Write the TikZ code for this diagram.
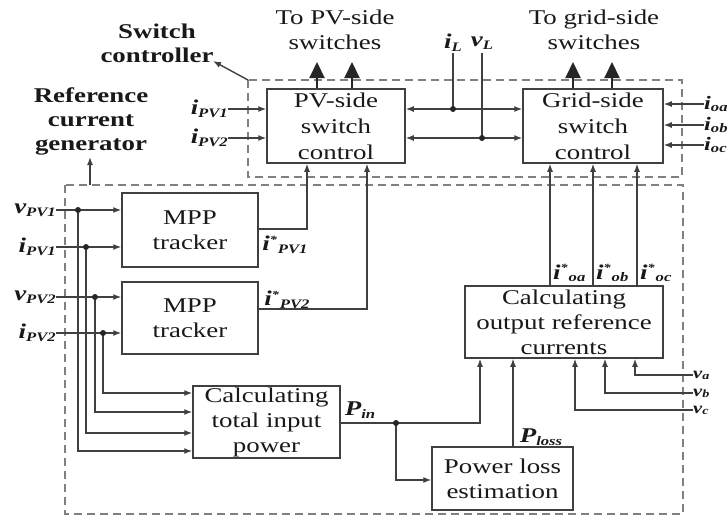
\documentclass[tikz,border=0pt]{standalone}
\usepackage{fontspec}
\setmainfont[FakeStretch=1.28]{Liberation Serif}
\usetikzlibrary{arrows.meta,calc}
\newcommand{\sgl}[2]{{\bfseries\itshape #1\raisebox{-0.3ex}{\fontsize{13}{13}\selectfont #2}}}
\newcommand{\sgv}[2]{{\bfseries\itshape #1\raisebox{-0.15ex}{\fontsize{11}{11}\selectfont #2}}}
\newcommand{\sgs}[2]{{\bfseries\itshape #1\raisebox{0.8ex}{\fontsize{11}{11}\selectfont *}\hspace{1pt}\raisebox{-0.3ex}{\fontsize{13}{13}\selectfont #2}}}
\begin{document}
\begin{tikzpicture}[x=1pt,y=-1pt,
 every node/.style={text=black!90},
 blk/.style={draw=black!75,line width=1.5pt,align=center,inner sep=0pt,font=\fontsize{21}{25}\selectfont},
 wire/.style={draw=black!75,line width=1.4pt},
 sarr/.style={wire,-{Latex[length=8pt,width=6pt]}},
 darr/.style={wire,{Latex[length=8pt,width=6pt]}-{Latex[length=8pt,width=6pt]}},
 barr/.style={draw=black!85,line width=2pt,-{Triangle[length=16pt,width=15pt]}},
 dbox/.style={draw=black!50,line width=1.3pt,dash pattern=on 8pt off 5pt},
 lbl/.style={inner sep=0pt,font=\fontsize{21}{25}\selectfont},
 sml/.style={inner sep=0pt,font=\fontsize{19}{20}\selectfont},
 vsm/.style={inner sep=0pt,font=\fontsize{16}{17}\selectfont},
 bl/.style={inner sep=0pt,align=center,font=\bfseries\fontsize{21}{24}\selectfont},
 jdot/.style={circle,fill=black!85,inner sep=0pt,minimum size=6pt},
]
\useasboundingbox (0,0) rectangle (727,517);
\fill[white] (0,0) rectangle (727,517);
\clip (0,0) rectangle (727,517);

% dashed groups
\draw[dbox] (248,80) rectangle (682,177);
\draw[dbox] (65,185) rectangle (683,514);

% blocks
\node[blk,minimum width=138pt,minimum height=74pt,font=\fontsize{21}{26}\selectfont] (pv) at (336,126) {PV-side\\switch\\control};
\node[blk,minimum width=140pt,minimum height=74pt,font=\fontsize{21}{26}\selectfont] (grid) at (593,126) {Grid-side\\switch\\control};
\node[blk,minimum width=136pt,minimum height=74pt] (mpp1) at (190,230) {MPP\\tracker};
\node[blk,minimum width=136pt,minimum height=72pt] (mpp2) at (190,318) {MPP\\tracker};
\node[blk,minimum width=147pt,minimum height=72pt] (cin) at (266.5,422) {Calculating\\total input\\power};
\node[blk,minimum width=198pt,minimum height=72pt] (cout) at (564,322) {Calculating\\output reference\\currents};
\node[blk,minimum width=141pt,minimum height=63pt] (ploss) at (502.5,478.5) {Power loss\\estimation};

% titles
\node[bl] (swc) at (157,43) {Switch\\controller};
\node[bl] (rcg) at (91,121) {Reference\\current\\generator};
\node[lbl,align=center] (topv) at (335,30) {To PV-side\\switches};
\node[lbl,align=center] (togr) at (594,30) {To grid-side\\switches};

\coordinate (scc) at (248,80);
\coordinate (sctip) at (213,61);
\draw[sarr] (scc) -- (sctip);
\coordinate (rgt) at (90,185);
\coordinate (rgtip) at (90,157);
\draw[sarr] (rgt) -- (rgtip);

% big output arrows
\coordinate (po1) at (317,62);
\coordinate (po2) at (352,62);
\coordinate (go1) at (573,62);
\coordinate (go2) at (612,62);
\draw[barr] (pv.north -| po1) -- (po1);
\draw[barr] (pv.north -| po2) -- (po2);
\draw[barr] (grid.north -| go1) -- (go1);
\draw[barr] (grid.north -| go2) -- (go2);

% iL vL
\node[lbl] (il) at (453,43) {\sgl{i}{L}};
\node[lbl] (vl) at (482,43) {\sgl{v}{L}};
\coordinate (dl) at (453,109);
\coordinate (dv) at (482,138);
\coordinate (ilb) at (453,53);
\coordinate (vlb) at (482,53);
\draw[wire] (ilb) -- (dl);
\draw[wire] (vlb) -- (dv);
\draw[darr] (pv.east |- dl) -- (grid.west |- dl);
\draw[darr] (pv.east |- dv) -- (grid.west |- dv);
\node[jdot] at (dl) {};
\node[jdot] at (dv) {};

% PV-side inputs
\node[lbl,anchor=east] (ipa) at (228,109) {\sgl{i}{PV1}};
\node[lbl,anchor=east] (ipb) at (228,138) {\sgl{i}{PV2}};
\draw[sarr] (ipa.east) -- (ipa.east -| pv.west);
\draw[sarr] (ipb.east) -- (ipb.east -| pv.west);

% grid-side inputs
\node[sml,anchor=west] (ioa) at (704,104) {\sgl{i}{oa}};
\node[sml,anchor=west] (iob) at (704,125) {\sgl{i}{ob}};
\node[sml,anchor=west] (ioc) at (704,145) {\sgl{i}{oc}};
\draw[sarr] (ioa.west) -- (ioa.west -| grid.east);
\draw[sarr] (iob.west) -- (iob.west -| grid.east);
\draw[sarr] (ioc.west) -- (ioc.west -| grid.east);

% left inputs
\node[lbl,anchor=east] (vp1) at (56,210) {\sgl{v}{PV1}};
\node[lbl,anchor=east] (ip1) at (56,247) {\sgl{i}{PV1}};
\node[lbl,anchor=east] (vp2) at (56,297) {\sgl{v}{PV2}};
\node[lbl,anchor=east] (ip2) at (56,333) {\sgl{i}{PV2}};
\draw[sarr] (vp1.east) -- (vp1.east -| mpp1.west);
\draw[sarr] (ip1.east) -- (ip1.east -| mpp1.west);
\draw[sarr] (vp2.east) -- (vp2.east -| mpp2.west);
\draw[sarr] (ip2.east) -- (ip2.east -| mpp2.west);

\coordinate (d1) at (78,210);
\coordinate (d2) at (86,247);
\coordinate (d3) at (95,297);
\coordinate (d4) at (103,333);
\coordinate (e1) at (193,451);
\coordinate (e2) at (193,433);
\coordinate (e3) at (193,412);
\coordinate (e4) at (193,393);
\draw[sarr] (d1) |- (e1 -| cin.west);
\draw[sarr] (d2) |- (e2 -| cin.west);
\draw[sarr] (d3) |- (e3 -| cin.west);
\draw[sarr] (d4) |- (e4 -| cin.west);
\node[jdot] at (d1) {};
\node[jdot] at (d2) {};
\node[jdot] at (d3) {};
\node[jdot] at (d4) {};

% MPP outputs
\coordinate (m1) at (307,229);
\coordinate (m2) at (367,309);
\draw[sarr] (mpp1.east |- m1) -| (pv.south -| m1);
\draw[sarr] (mpp2.east |- m2) -| (pv.south -| m2);
\node[lbl] (lm1) at (285,245) {\sgs{i}{PV1}};
\node[lbl] (lm2) at (287,300) {\sgs{i}{PV2}};

% output reference currents to grid control
\coordinate (o1) at (550,0);
\coordinate (o2) at (593,0);
\coordinate (o3) at (637,0);
\draw[sarr] (cout.north -| o1) -- (grid.south -| o1);
\draw[sarr] (cout.north -| o2) -- (grid.south -| o2);
\draw[sarr] (cout.north -| o3) -- (grid.south -| o3);
\node[lbl,anchor=west] (loa) at (553,273) {\sgs{i}{oa}};
\node[lbl,anchor=west] (lob) at (596,273) {\sgs{i}{ob}};
\node[lbl,anchor=west] (loc) at (640,273) {\sgs{i}{oc}};

% Pin and Ploss
\coordinate (pj) at (396,423);
\coordinate (pu) at (480,0);
\coordinate (pl) at (432,480);
\draw[wire] (cin.east |- pj) -- (pj);
\draw[sarr] (pj) -| (cout.south -| pu);
\draw[sarr] (pj) |- (pl -| ploss.west);
\node[jdot] at (pj) {};
\node[lbl] (lpin) at (360,410) {\sgl{P}{in}};
\coordinate (pq) at (513,0);
\draw[sarr] (ploss.north -| pq) -- (cout.south -| pq);
\node[lbl] (lpl) at (541,437) {\sgl{P}{loss}};

% grid voltages
\node[vsm,anchor=west] (va) at (693,375) {\sgv{v}{a}};
\node[vsm,anchor=west] (vb) at (693,393) {\sgv{v}{b}};
\node[vsm,anchor=west] (vc) at (693,410) {\sgv{v}{c}};
\coordinate (xa) at (635,0);
\coordinate (xb) at (605,0);
\coordinate (xc) at (575,0);
\draw[sarr] (va.west) -| (cout.south -| xa);
\draw[sarr] (vb.west) -| (cout.south -| xb);
\draw[sarr] (vc.west) -| (cout.south -| xc);
\end{tikzpicture}
\end{document}
